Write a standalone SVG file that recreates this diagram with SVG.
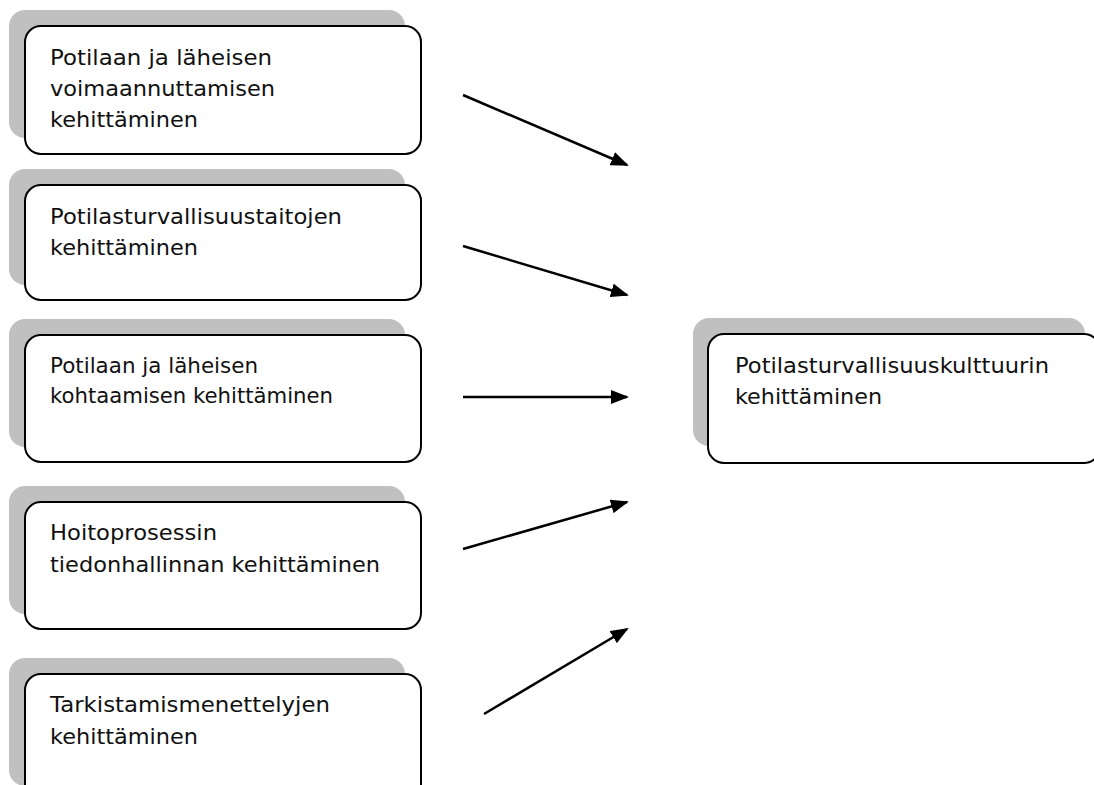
<svg xmlns="http://www.w3.org/2000/svg" width="1094" height="785" viewBox="0 0 1094 785">
<defs>
<style>
.sh{fill:#c0c0c0;stroke:none}
.bx{fill:#fff;stroke:#000;stroke-width:2}
.t{font-family:"DejaVu Sans",Verdana,sans-serif;font-size:22px;fill:#111}
.c{stroke:#000;stroke-width:2.5;fill:none}
</style>
<marker id="a" markerWidth="18" markerHeight="14" refX="16" refY="7" orient="auto" markerUnits="userSpaceOnUse">
<path d="M0,0 L18,7 L0,14 z" fill="#000"/>
</marker>
</defs>
<rect width="1094" height="785" fill="#fff"/>
<g id="n1">
<rect class="sh" x="9" y="10" width="396" height="128" rx="16"/>
<rect class="bx" x="25" y="26" width="396" height="128" rx="16"/>
<text class="t" x="50" y="65" textLength="222" lengthAdjust="spacingAndGlyphs">Potilaan ja läheisen</text>
<text class="t" x="50" y="96" textLength="225" lengthAdjust="spacingAndGlyphs">voimaannuttamisen</text>
<text class="t" x="50" y="127" textLength="148" lengthAdjust="spacingAndGlyphs">kehittäminen</text>
</g>
<g id="n2">
<rect class="sh" x="9" y="169" width="396" height="116" rx="16"/>
<rect class="bx" x="25" y="185" width="396" height="115" rx="16"/>
<text class="t" x="50" y="224" textLength="292" lengthAdjust="spacingAndGlyphs">Potilasturvallisuustaitojen</text>
<text class="t" x="50" y="255" textLength="148" lengthAdjust="spacingAndGlyphs">kehittäminen</text>
</g>
<g id="n3">
<rect class="sh" x="9" y="319" width="396" height="128" rx="16"/>
<rect class="bx" x="25" y="335" width="396" height="127" rx="16"/>
<text class="t" x="50" y="373" textLength="208" lengthAdjust="spacingAndGlyphs">Potilaan ja läheisen</text>
<text class="t" x="50" y="403" textLength="283" lengthAdjust="spacingAndGlyphs">kohtaamisen kehittäminen</text>
</g>
<g id="n4">
<rect class="sh" x="9" y="486" width="396" height="128" rx="16"/>
<rect class="bx" x="25" y="502" width="396" height="127" rx="16"/>
<text class="t" x="50" y="540" textLength="167" lengthAdjust="spacingAndGlyphs">Hoitoprosessin</text>
<text class="t" x="50" y="572" textLength="330" lengthAdjust="spacingAndGlyphs">tiedonhallinnan kehittäminen</text>
</g>
<g id="n5">
<rect class="sh" x="9" y="658" width="396" height="128" rx="16"/>
<rect class="bx" x="25" y="674" width="396" height="127" rx="16"/>
<text class="t" x="50" y="712" textLength="280" lengthAdjust="spacingAndGlyphs">Tarkistamismenettelyjen</text>
<text class="t" x="50" y="744" textLength="148" lengthAdjust="spacingAndGlyphs">kehittäminen</text>
</g>
<g id="n6">
<rect class="sh" x="693" y="318" width="392" height="128" rx="16"/>
<rect class="bx" x="708" y="334" width="392" height="129" rx="16"/>
<text class="t" x="735" y="373" textLength="314" lengthAdjust="spacingAndGlyphs">Potilasturvallisuuskulttuurin</text>
<text class="t" x="735" y="404" textLength="147" lengthAdjust="spacingAndGlyphs">kehittäminen</text>
</g>
<g id="connectors">
<line class="c" x1="463" y1="95" x2="627" y2="165" marker-end="url(#a)"/>
<line class="c" x1="463" y1="246" x2="627" y2="295" marker-end="url(#a)"/>
<line class="c" x1="463" y1="397" x2="627" y2="397" marker-end="url(#a)"/>
<line class="c" x1="463" y1="549" x2="627" y2="502" marker-end="url(#a)"/>
<line class="c" x1="484" y1="714" x2="627" y2="629" marker-end="url(#a)"/>
</g>
</svg>
